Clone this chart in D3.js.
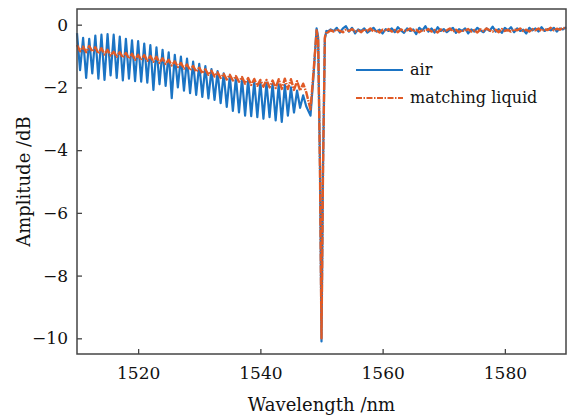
<!DOCTYPE html>
<html>
<head>
<meta charset="utf-8">
<script src="https://cdn.jsdelivr.net/npm/d3@7"></script>
<style>
  body { margin: 0; background: #fff; }
  text { font-family: "DejaVu Serif", serif; fill: #111; }
</style>
</head>
<body>
<div id="chart"></div>
<script>
// ripple part, values alternate peak (n.0 nm) / trough (n.5 nm) from 1510 nm
const rippleStart = 1510;
const rippleStep = 0.5;
const airRipple = [
  -0.27, -1.45, -0.42, -1.70, -0.45, -1.55, -0.35, -1.72, -0.32, -1.76,
  -0.30, -1.62, -0.32, -1.70, -0.38, -1.78, -0.45, -1.72, -0.50, -1.80,
  -0.52, -1.82, -0.60, -1.85, -0.65, -2.08, -0.72, -1.90, -0.80, -1.95,
  -0.88, -2.34, -0.96, -2.00, -1.02, -2.10, -1.08, -2.18, -1.18, -2.24,
  -1.25, -2.30, -1.32, -2.35, -1.42, -2.40, -1.48, -2.50, -1.55, -2.62,
  -1.62, -2.75, -1.68, -2.80, -1.72, -2.90, -1.75, -2.92, -1.80, -2.95,
  -1.82, -3.00, -1.85, -2.95, -1.88, -3.05, -1.90, -3.10, -1.92, -2.90,
  -2.00, -2.80, -2.10, -2.65, -2.25, -2.60
];
const liquidRipple = [
  -0.65, -0.85, -0.70, -0.88, -0.68, -0.86, -0.72, -0.92, -0.75, -0.95,
  -0.80, -0.98, -0.86, -1.02, -0.88, -1.05, -0.90, -1.08, -0.93, -1.12,
  -0.96, -1.12, -0.97, -1.15, -1.00, -1.18, -1.02, -1.22, -1.07, -1.25,
  -1.12, -1.30, -1.17, -1.35, -1.22, -1.40, -1.27, -1.45, -1.32, -1.50,
  -1.37, -1.55, -1.42, -1.60, -1.47, -1.65, -1.52, -1.70, -1.57, -1.75,
  -1.60, -1.78, -1.64, -1.82, -1.67, -1.88, -1.70, -1.92, -1.73, -1.95,
  -1.76, -1.98, -1.76, -2.00, -1.78, -2.02, -1.74, -2.05, -1.72, -2.05,
  -1.74, -2.08, -1.80, -2.10, -1.88, -2.15
];

// notch around 1550 nm
const airNotchWl = [1548.2, 1548.7, 1549.2, 1549.45, 1549.75, 1550.0, 1550.25, 1550.55, 1550.8];
const airNotchAmp = [-2.90, -1.60, -0.12, -0.40, -4.50, -10.10, -4.50, -0.45, -0.20];
const liquidNotchWl = [1548.2, 1548.7, 1549.2, 1549.45, 1549.75, 1550.0, 1550.25, 1550.55, 1550.8];
const liquidNotchAmp = [-2.70, -1.50, -0.18, -0.45, -4.60, -10.00, -4.60, -0.40, -0.22];

// flat noisy part from 1551 nm, 0.5 nm step
const flatStart = 1551;
const flatStep = 0.5;
const airFlat = [
  -0.22, -0.15, -0.20, -0.10, -0.25, -0.12, -0.05, -0.22, -0.10, -0.28,
  -0.15, -0.20, -0.12, -0.25, -0.18, -0.10, -0.22, -0.16, -0.28, -0.14,
  -0.20, -0.12, -0.24, -0.08, -0.18, -0.26, -0.12, -0.20, -0.15, -0.30,
  -0.10, -0.18, -0.05, -0.22, -0.12, -0.25, -0.08, -0.20, -0.14, -0.24,
  -0.16, -0.10, -0.26, -0.14, -0.20, -0.12, -0.28, -0.15, -0.22, -0.10,
  -0.18, -0.24, -0.12, -0.20, -0.06, -0.22, -0.14, -0.26, -0.10, -0.18,
  -0.08, -0.24, -0.12, -0.20, -0.16, -0.28, -0.10, -0.18, -0.12, -0.22,
  -0.08, -0.20, -0.14, -0.18, -0.10, -0.22, -0.12, -0.15, -0.08
];
const liquidFlat = [
  -0.25, -0.18, -0.22, -0.15, -0.20, -0.24, -0.16, -0.20, -0.14, -0.22,
  -0.18, -0.24, -0.15, -0.20, -0.12, -0.22, -0.18, -0.25, -0.16, -0.20,
  -0.14, -0.22, -0.17, -0.24, -0.15, -0.20, -0.18, -0.12, -0.22, -0.16,
  -0.24, -0.18, -0.20, -0.14, -0.22, -0.17, -0.25, -0.15, -0.20, -0.18,
  -0.12, -0.22, -0.16, -0.24, -0.18, -0.20, -0.14, -0.22, -0.17, -0.25,
  -0.15, -0.20, -0.12, -0.18, -0.22, -0.16, -0.24, -0.14, -0.20, -0.17,
  -0.22, -0.15, -0.18, -0.12, -0.20, -0.16, -0.22, -0.14, -0.18, -0.12,
  -0.20, -0.15, -0.17, -0.10, -0.18, -0.13, -0.16, -0.10, -0.14
];

const xTicks = [1520, 1540, 1560, 1580];
const yTicks = [0, -2, -4, -6, -8, -10];
const seriesNames = ['air', 'matching liquid'];

const width = 567;
const height = 417;
const margin = { top: 9, right: 1, bottom: 63, left: 77 };
const innerW = width - margin.left - margin.right;
const innerH = height - margin.top - margin.bottom;

const blue = '#1b74c4';
const orange = '#e05a26';
const dash = '8,1.2,1.5,1.2';

const buildSeries = (ripple, notchWl, notchAmp, flat) => {
  const pts = ripple.map((v, i) => [rippleStart + i * rippleStep, v]);
  notchWl.forEach((w, i) => pts.push([w, notchAmp[i]]));
  flat.forEach((v, i) => pts.push([flatStart + i * flatStep, v]));
  return pts;
};

const air = buildSeries(airRipple, airNotchWl, airNotchAmp, airFlat);
const liquid = buildSeries(liquidRipple, liquidNotchWl, liquidNotchAmp, liquidFlat);

const x = d3.scaleLinear().domain([1510, 1590]).range([0, innerW]);
const y = d3.scaleLinear().domain([-10.5, 0.5]).range([innerH, 0]);

const svg = d3.select('#chart').append('svg')
  .attr('width', width)
  .attr('height', height);

const g = svg.append('g')
  .attr('transform', `translate(${margin.left},${margin.top})`);

const line = d3.line().x(d => x(d[0])).y(d => y(d[1]));

g.append('path')
  .datum(air)
  .attr('fill', 'none')
  .attr('stroke', blue)
  .attr('stroke-width', 2.2)
  .attr('stroke-linejoin', 'round')
  .attr('d', line);

g.append('path')
  .datum(liquid)
  .attr('fill', 'none')
  .attr('stroke', orange)
  .attr('stroke-width', 2.4)
  .attr('stroke-dasharray', dash)
  .attr('stroke-linejoin', 'round')
  .attr('d', line);

// axes with inward ticks
const xAxis = g.append('g')
  .attr('transform', `translate(0,${innerH})`)
  .call(d3.axisBottom(x).tickValues(xTicks).tickSizeInner(-5).tickSizeOuter(0).tickPadding(13).tickFormat(d3.format('d')));
const yAxis = g.append('g')
  .call(d3.axisLeft(y).tickValues(yTicks).tickSizeInner(-5).tickSizeOuter(0).tickPadding(9)
    .tickFormat(d => d < 0 ? '\u2212' + Math.abs(d) : d));

[xAxis, yAxis].forEach(a => {
  a.select('.domain').remove();
  a.selectAll('line').attr('stroke', '#444').attr('stroke-width', 1.3);
  a.selectAll('text').style('font-size', '17px').style('font-family', '"DejaVu Serif", serif').attr('fill', '#111');
});

// frame
g.append('rect')
  .attr('width', innerW)
  .attr('height', innerH)
  .attr('fill', 'none')
  .attr('stroke', '#444')
  .attr('stroke-width', 1.5);

// axis titles
svg.append('text')
  .attr('x', margin.left + innerW / 2)
  .attr('y', 411)
  .attr('text-anchor', 'middle')
  .style('font-size', '18px')
  .text('Wavelength /nm');

svg.append('text')
  .attr('transform', `translate(30,${margin.top + innerH / 2}) rotate(-90)`)
  .attr('text-anchor', 'middle')
  .style('font-size', '18px')
  .text('Amplitude /dB');

// legend
const legend = svg.append('g').attr('transform', 'translate(356,70)');
const legendColors = [blue, orange];
const legendDash = [null, '6,1.5,1.5,1.5'];
seriesNames.forEach((name, i) => {
  legend.append('line')
    .attr('x1', 0).attr('x2', 47)
    .attr('y1', i * 28).attr('y2', i * 28)
    .attr('stroke', legendColors[i])
    .attr('stroke-width', 1.8)
    .attr('stroke-dasharray', legendDash[i]);
  legend.append('text')
    .attr('x', 54)
    .attr('y', i * 28 + 5)
    .style('font-size', '16px')
    .text(name);
});
</script>
</body>
</html>
